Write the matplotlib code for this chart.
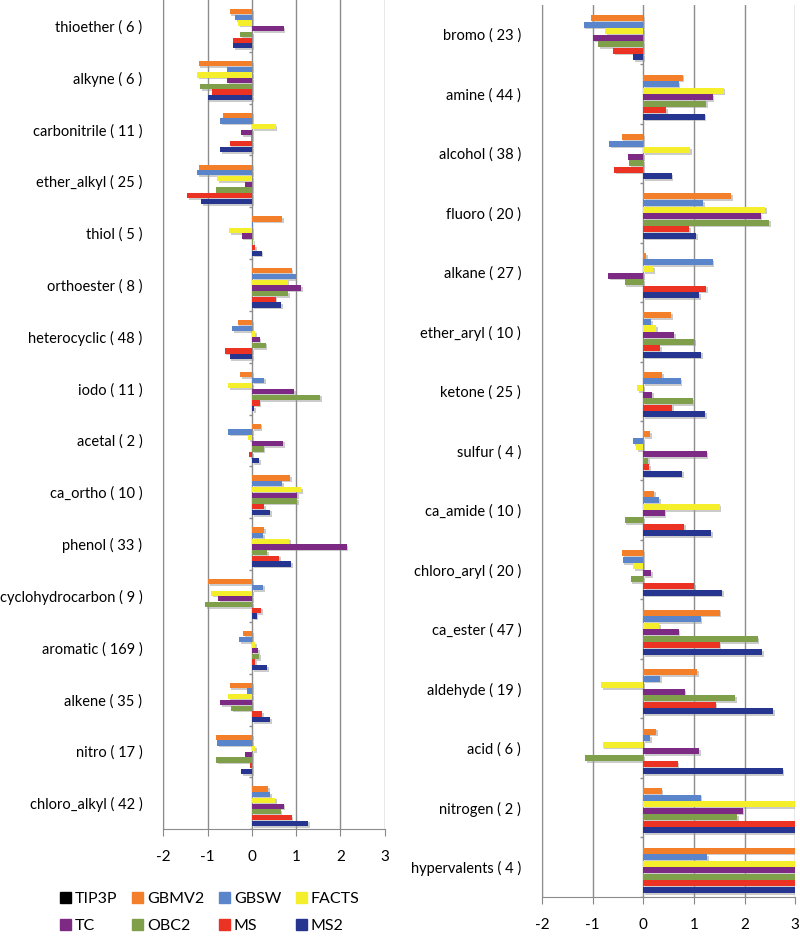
import numpy as np
import matplotlib.pyplot as plt
import matplotlib.patheffects as pe
from matplotlib.patches import Patch

plt.rcParams['font.family'] = ['Lato', 'DejaVu Sans']
plt.rcParams['axes.unicode_minus'] = False

series = ['TIP3P', 'GBMV2', 'GBSW', 'FACTS', 'TC', 'OBC2', 'MS', 'MS2']
colors = ['#000000', '#F47F2A', '#5A85CB', '#F4EE2B', '#7D2A84', '#7F9F4B', '#EC3223', '#26358F']

# left panel
left_cats = ['thioether ( 6 )', 'alkyne ( 6 )', 'carbonitrile ( 11 )', 'ether_alkyl ( 25 )',
             'thiol ( 5 )', 'orthoester ( 8 )', 'heterocyclic ( 48 )', 'iodo ( 11 )',
             'acetal ( 2 )', 'ca_ortho ( 10 )', 'phenol ( 33 )', 'cyclohydrocarbon ( 9 )',
             'aromatic ( 169 )', 'alkene ( 35 )', 'nitro ( 17 )', 'chloro_alkyl ( 42 )']
left_tip3p = [0] * 16
left_gbmv2 = [-0.50, -1.20, -0.65, -1.20, 0.68, 0.90, -0.32, -0.26, 0.20, 0.86, 0.28, -0.98, -0.20, -0.50, -0.81, 0.37]
left_gbsw = [-0.38, -0.55, -0.71, -1.24, 0.02, 0.99, -0.44, 0.28, -0.53, 0.69, 0.26, 0.26, -0.29, -0.10, -0.78, 0.41]
left_facts = [-0.31, -1.24, 0.54, -0.78, -0.51, 0.81, 0.08, -0.53, -0.08, 1.11, 0.84, -0.92, 0.07, -0.53, 0.07, 0.53]
left_tc = [0.72, -0.55, -0.24, -0.16, -0.23, 1.11, 0.18, 0.95, 0.70, 1.03, 2.14, -0.76, 0.15, -0.72, -0.16, 0.72]
left_obc2 = [-0.26, -1.16, -0.03, -0.80, 0.03, 0.82, 0.31, 1.54, 0.27, 1.03, 0.35, -1.05, 0.16, -0.46, -0.81, 0.65]
left_ms = [-0.42, -0.90, -0.50, -1.46, 0.07, 0.54, -0.61, 0.18, -0.06, 0.28, 0.62, 0.21, 0.07, 0.23, -0.05, 0.90]
left_ms2 = [-0.42, -1.00, -0.72, -1.15, 0.22, 0.66, -0.50, 0.05, 0.17, 0.41, 0.88, 0.11, 0.35, 0.41, -0.24, 1.27]

# right panel
right_cats = ['bromo ( 23 )', 'amine ( 44 )', 'alcohol ( 38 )', 'fluoro ( 20 )', 'alkane ( 27 )',
              'ether_aryl ( 10 )', 'ketone ( 25 )', 'sulfur ( 4 )', 'ca_amide ( 10 )',
              'chloro_aryl ( 20 )', 'ca_ester ( 47 )', 'aldehyde ( 19 )', 'acid ( 6 )',
              'nitrogen ( 2 )', 'hypervalents ( 4 )']
right_tip3p = [0] * 15
right_gbmv2 = [-1.04, 0.78, -0.43, 1.74, 0.06, 0.55, 0.37, 0.13, 0.22, -0.42, 1.51, 1.07, 0.26, 0.36, 3.6]
right_gbsw = [-1.18, 0.70, -0.68, 1.18, 1.37, 0.15, 0.74, -0.20, 0.32, -0.41, 1.13, 0.34, 0.13, 1.13, 1.26]
right_facts = [-0.75, 1.59, 0.92, 2.41, 0.19, 0.26, -0.12, -0.14, 1.51, -0.20, 0.31, -0.83, -0.80, 3.5, 3.8]
right_tc = [-0.99, 1.37, -0.30, 2.32, -0.69, 0.61, 0.17, 1.25, 0.42, 0.16, 0.70, 0.82, 1.11, 1.96, 3.4]
right_obc2 = [-0.89, 1.24, -0.28, 2.49, -0.37, 1.00, 0.98, 0.09, -0.37, -0.25, 2.26, 1.82, -1.15, 1.86, 3.9]
right_ms = [-0.59, 0.45, -0.58, 0.90, 1.24, 0.34, 0.57, 0.11, 0.81, 1.01, 1.51, 1.43, 0.68, 4.1, 4.4]
right_ms2 = [-0.20, 1.21, 0.56, 1.05, 1.10, 1.14, 1.22, 0.77, 1.34, 1.56, 2.35, 2.56, 2.75, 3.7, 4.0]

left_vals = [left_tip3p, left_gbmv2, left_gbsw, left_facts, left_tc, left_obc2, left_ms, left_ms2]
right_vals = [right_tip3p, right_gbmv2, right_gbsw, right_facts, right_tc, right_obc2, right_ms, right_ms2]

fig = plt.figure(figsize=(8, 9.38), dpi=100)
ax1 = fig.add_axes([0.204, 0.116, 0.277, 0.884])
ax2 = fig.add_axes([0.6775, 0.044, 0.3165, 0.951])

slot = 0.11
shadow = [pe.SimplePatchShadow(offset=(1.2, -1.2), shadow_rgbFace='#999999', alpha=0.5), pe.Normal()]


def draw_panel(ax, cats, vals):
    n = len(cats)
    y = np.arange(n)
    for k, (v, c) in enumerate(zip(vals, colors)):
        pos = y - 4 * slot + slot * (k + 0.5)
        ax.barh(pos, v, height=slot * 0.92, color=c, zorder=3, path_effects=shadow)
    ax.set_xlim(-2, 3)
    ax.set_ylim(n - 0.5, -0.5)
    ax.set_xticks(range(-2, 4))
    ax.set_yticks(y)
    ax.set_yticklabels(cats)
    ax.tick_params(axis='y', length=0, pad=15, labelsize=10.5)
    ax.tick_params(axis='x', length=5, color='#888888', direction='out', labelsize=11, pad=10)
    ax.grid(axis='x', color='#8c8c8c', lw=1, zorder=0)
    for side in ['top', 'right']:
        ax.spines[side].set_visible(False)
    for side in ['left', 'bottom']:
        ax.spines[side].set_color('#8c8c8c')
    # category axis at zero with small tick marks between groups
    ax.hlines(np.arange(n) + 0.5, -0.07, 0, color='#8c8c8c', lw=1, zorder=2)


draw_panel(ax1, left_cats, left_vals)
draw_panel(ax2, right_cats, right_vals)

handles = [Patch(color=c, label=s) for s, c in zip(series, colors)]
order = [0, 4, 1, 5, 2, 6, 3, 7]
fig.legend([handles[i] for i in order], [series[i] for i in order], ncol=4,
           loc='center', bbox_to_anchor=(0.262, 0.027), frameon=False, fontsize=11.5,
           handlelength=0.7, handleheight=0.7, handletextpad=0.25, columnspacing=0.9,
           labelspacing=0.8)

fig.savefig('out.png', dpi=100)
